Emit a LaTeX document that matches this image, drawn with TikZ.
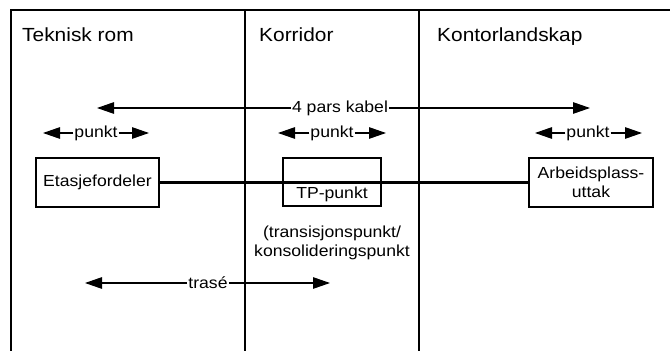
\documentclass[tikz,border=0pt]{standalone}
\usepackage{fontspec}
\setmainfont[FakeStretch=1.1]{Liberation Sans}
\usetikzlibrary{arrows.meta}
\tikzset{
  frameline/.style={line width=1.5pt},
  heading/.style={anchor=base west, inner sep=0pt, font=\fontsize{19}{22}\selectfont},
  lbl/.style={inner sep=1pt, font=\fontsize{16}{19.5}\selectfont},
  arr/.style={line width=1.2pt, -{Triangle[length=17pt,width=11.5pt]}},
  boxnode/.style={draw, line width=1.2pt, minimum height=49pt, align=center, inner sep=0pt, font=\fontsize{16}{19.5}\selectfont},
  tpbox/.style={draw, line width=2.2pt, minimum width=98pt, minimum height=48pt, inner sep=0pt},
  cable/.style={line width=2.4pt}
}
\begin{document}
\begin{tikzpicture}[x=1pt,y=-1pt]
\useasboundingbox (0,0) rectangle (670,351);
% frame
\draw[frameline] (11,351) -- (11,10) -- (670,10);
\draw[frameline] (245,10) -- (245,351);
\draw[frameline] (419,10) -- (419,351);
% headings
\node[heading] (h1) at (22,41) {Teknisk rom};
\node[heading] (h2) at (259,41) {Korridor};
\node[heading] (h3) at (437,41) {Kontorlandskap};
% 4 pars kabel
\node[lbl] (kabel) at (340,108) {4 pars kabel};
\coordinate (kabelL) at (97,108);
\coordinate (kabelR) at (590,108);
\draw[arr] (kabel) -- (kabelL);
\draw[arr] (kabel) -- (kabelR);
% punkt arrows
\node[lbl] (p1) at (96,133) {punkt};
\coordinate (p1L) at (43,133);
\coordinate (p1R) at (149,133);
\draw[arr] (p1) -- (p1L);
\draw[arr] (p1) -- (p1R);
\node[lbl] (p2) at (332,133) {punkt};
\coordinate (p2L) at (278,133);
\coordinate (p2R) at (386,133);
\draw[arr] (p2) -- (p2L);
\draw[arr] (p2) -- (p2R);
\node[lbl] (p3) at (588,133) {punkt};
\coordinate (p3L) at (535,133);
\coordinate (p3R) at (642,133);
\draw[arr] (p3) -- (p3L);
\draw[arr] (p3) -- (p3R);
% boxes
\node[boxnode, minimum width=123pt] (etasje) at (97.5,182.5) {Etasjefordeler};
\node[tpbox] (tp) at (332,182) {};
\node[lbl] (tplabel) at (332,194.5) {TP-punkt};
\node[boxnode, minimum width=124pt] (arbeid) at (591,182.5) {Arbeidsplass-\\uttak};
\draw[cable] (etasje.east) -- (arbeid.west);
% transisjonspunkt text
\node[lbl, align=center] (trans) at (332,243) {(transisjonspunkt/\\konsolideringspunkt};
% trase
\node[lbl] (trase) at (208,283) {trasé};
\coordinate (traseL) at (85,283);
\coordinate (traseR) at (330,283);
\draw[arr] (trase) -- (traseL);
\draw[arr] (trase) -- (traseR);
\end{tikzpicture}
\end{document}
